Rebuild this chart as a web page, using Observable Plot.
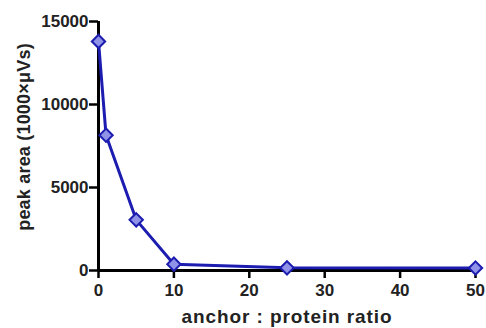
<!DOCTYPE html>
<html><head><meta charset="utf-8">
<script src="https://cdn.jsdelivr.net/npm/d3@7"></script>
<script src="https://cdn.jsdelivr.net/npm/@observablehq/plot@0.6"></script>
<style>
body{margin:0;background:#fff;}
svg{font-family:"Liberation Sans",Arial,sans-serif;}
.xlab text{letter-spacing:0.9px;}
.ylab text{letter-spacing:0.2px;}
</style>
</head><body><div id="chart"></div>
<script>
const ratios = [0, 1, 5, 10, 25, 50];
const peakArea = [13800, 8150, 3050, 380, 160, 150];
const xTicks = [0, 10, 20, 30, 40, 50];
const yTicks = [0, 5000, 10000, 15000];
const xLabel = "anchor : protein ratio";
const yLabel = "peak area (1000×μVs)";
const data = ratios.map((r, i) => ({x: r, y: peakArea[i]}));

const chart = Plot.plot({
  width: 486, height: 328,
  marginLeft: 98, marginRight: 11, marginTop: 21, marginBottom: 58,
  style: {fontFamily: '"Liberation Sans",Arial,sans-serif', background: "#fff"},
  x: {domain: [0, 50], ticks: xTicks},
  y: {domain: [0, 15000], ticks: yTicks},
  marks: [
    Plot.axisX({ticks: xTicks, tickSize: 8, tickPadding: 5, stroke: "#000", strokeWidth: 2.5,
      fontSize: 17, fontWeight: "bold", fill: "#222", label: null, tickFormat: d => String(d)}),
    Plot.axisY({ticks: yTicks, tickSize: 9, tickPadding: 1, stroke: "#000", strokeWidth: 2.5,
      fontSize: 17, fontWeight: "bold", fill: "#222", label: null, tickFormat: d => String(d)}),
    Plot.text([xLabel], {frameAnchor: "bottom", dy: 52, fontSize: 19, fontWeight: "bold", fill: "#222",
      className: "xlab"}),
    Plot.text([yLabel], {frameAnchor: "left", textAnchor: "middle", dx: -74, dy: -9, rotate: -90,
      fontSize: 18, fontWeight: "bold", fill: "#222", className: "ylab"}),
    Plot.ruleY([0], {stroke: "#000", strokeWidth: 3}),
    Plot.ruleX([0], {stroke: "#000", strokeWidth: 3}),
    Plot.line(data, {x: "x", y: "y", stroke: "#1c1cb0", strokeWidth: 3}),
    Plot.dot(data, {x: "x", y: "y", symbol: "diamond2", r: 6, fill: "#8f92e6", stroke: "#1c1cb0", strokeWidth: 2})
  ]
});
document.getElementById("chart").append(chart);
</script>
</body></html>
